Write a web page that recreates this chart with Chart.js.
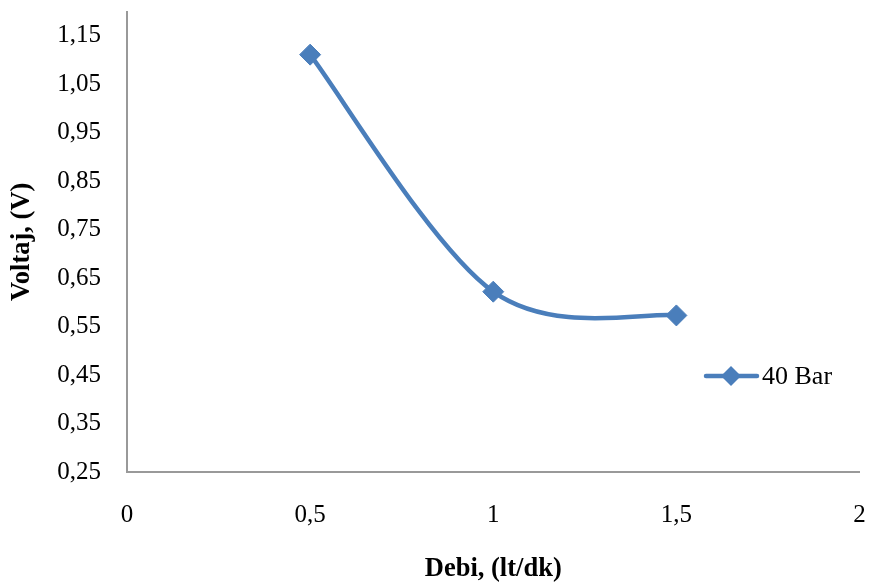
<!DOCTYPE html>
<html>
<head>
<meta charset="utf-8">
<script src="https://cdn.jsdelivr.net/npm/chart.js@4/dist/chart.umd.min.js"></script>
<style>
    html, body { margin: 0; padding: 0; background: #fff; }
    #wrap { width: 871px; height: 587px; }
</style>
</head>
<body>
<div id="wrap"><canvas id="lineChart" width="871" height="587"></canvas></div>
<script>
    // Dữ liệu
    var debi = [0.5, 1, 1.5];
    var voltaj = [1.111, 0.622, 0.573];
    var seriesName = "40 Bar";
    var yTicks = [0.25, 0.35, 0.45, 0.55, 0.65, 0.75, 0.85, 0.95, 1.05, 1.15];
    var xTicks = [0, 0.5, 1, 1.5, 2];

    var blue = "#4a7ebb";
    var serif = "'Liberation Serif', 'Times New Roman', serif";
    var axisFont = { family: serif, size: 25 };
    var titleFont = { family: serif, size: 26.5, weight: "bold" };

    // Làm mượt kiểu Excel (Catmull-Rom) trên các điểm do thư viện tính
    var smoothPlugin = {
        id: "excelSmooth",
        beforeDatasetDraw: function (chart, args) {
            var pts = args.meta.data;
            for (var i = 0; i < pts.length; i++) {
                var prev = pts[i - 1] || pts[i];
                var next = pts[i + 1] || pts[i];
                var dx = (next.x - prev.x) / 6;
                var dy = (next.y - prev.y) / 6;
                pts[i].cp1x = pts[i].x - dx;
                pts[i].cp1y = pts[i].y - dy;
                pts[i].cp2x = pts[i].x + dx;
                pts[i].cp2y = pts[i].y + dy;
            }
            args.meta.dataset._pointsUpdated = true;
        },
    };

    // Chú thích vẽ tay
    var legendPlugin = {
        id: "legendRight",
        afterDraw: function (chart) {
            var c = chart.ctx;
            var y = 376;
            c.save();
            c.strokeStyle = blue;
            c.lineWidth = 4.5;
            c.lineCap = "round";
            c.beginPath();
            c.moveTo(706, y);
            c.lineTo(757, y);
            c.stroke();
            c.fillStyle = blue;
            c.beginPath();
            c.moveTo(731, y - 10);
            c.lineTo(741, y);
            c.lineTo(731, y + 10);
            c.lineTo(721, y);
            c.closePath();
            c.fill();
            c.fillStyle = "#000";
            c.font = "26px " + serif;
            c.textBaseline = "middle";
            c.fillText(seriesName, 762, y + 1);
            c.restore();
        },
    };

    var ctx = document.getElementById("lineChart").getContext("2d");
    new Chart(ctx, {
        type: "scatter",
        data: {
            datasets: [
                {
                    label: seriesName,
                    data: debi.map(function (x, i) { return { x: x, y: voltaj[i] }; }),
                    showLine: true,
                    borderColor: blue,
                    backgroundColor: blue,
                    borderWidth: 4.5,
                    tension: 0.4,
                    pointStyle: "rectRot",
                    pointRadius: 10.5,
                    pointHoverRadius: 10.5,
                    pointBorderWidth: 1,
                    pointBorderColor: blue,
                    pointBackgroundColor: blue,
                },
            ],
        },
        options: {
            responsive: false,
            animation: false,
            layout: { padding: { left: 0, right: 7, top: 0, bottom: 0 } },
            plugins: {
                legend: { display: false },
                tooltip: { enabled: false },
            },
            scales: {
                x: {
                    type: "linear",
                    min: 0,
                    max: 2,
                    afterBuildTicks: function (s) { s.ticks = xTicks.map(function (v) { return { value: v }; }); },
                    afterFit: function (s) {
                        s.height = 115;
                        s.paddingLeft = 0;
                        s.paddingRight = 0;
                    },
                    grid: { display: false, drawTicks: false },
                    border: { display: true, color: "#999", width: 2 },
                    ticks: {
                        padding: 28,
                        maxRotation: 0,
                        color: "#000",
                        font: axisFont,
                        callback: function (v) { return String(v).replace(".", ","); },
                    },
                    title: {
                        display: true,
                        text: "Debi, (lt/dk)",
                        color: "#000",
                        font: titleFont,
                        padding: { top: 0, bottom: 2 },
                    },
                },
                y: {
                    type: "linear",
                    min: 0.25,
                    max: 1.2,
                    afterBuildTicks: function (s) { s.ticks = yTicks.map(function (v) { return { value: v }; }); },
                    afterFit: function (s) {
                        s.width = 127;
                        s.paddingTop = 0;
                        s.paddingBottom = 0;
                    },
                    grid: { display: false, drawTicks: false },
                    border: { display: true, color: "#999", width: 2 },
                    ticks: {
                        padding: 26,
                        color: "#000",
                        font: axisFont,
                        callback: function (v) { return v.toFixed(2).replace(".", ","); },
                    },
                    title: {
                        display: true,
                        text: "Voltaj, (V)",
                        color: "#000",
                        font: titleFont,
                        padding: { top: 6, bottom: 0 },
                    },
                },
            },
        },
        plugins: [smoothPlugin, legendPlugin],
    });
</script>
</body>
</html>
